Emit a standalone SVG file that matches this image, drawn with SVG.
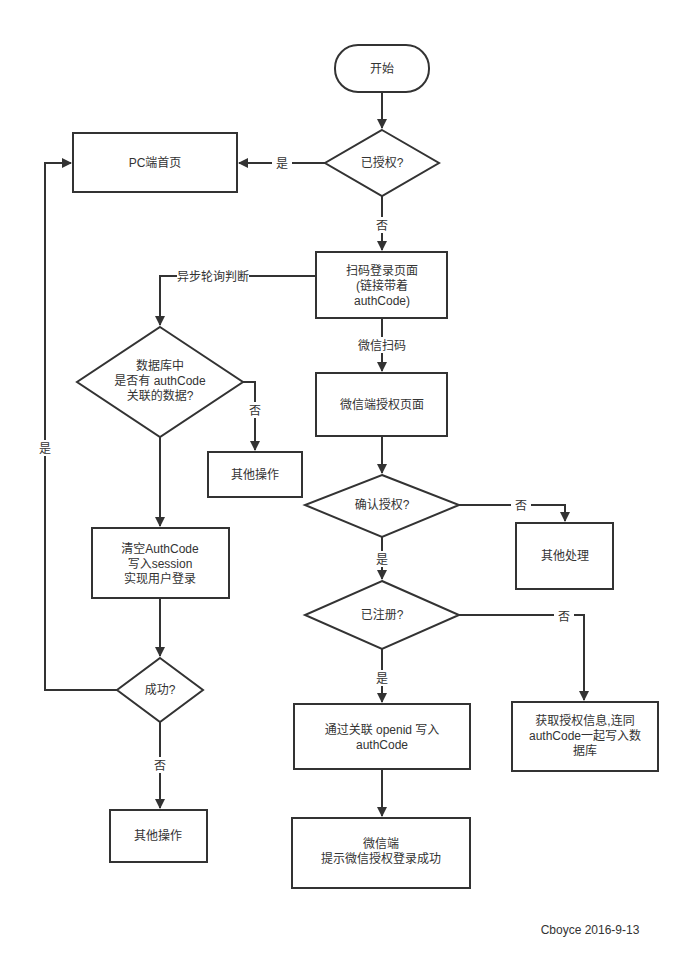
<svg xmlns="http://www.w3.org/2000/svg" width="700" height="975" viewBox="0 0 700 975">
<style>
.n{fill:#fff;stroke:#333;stroke-width:2}
text{font-family:"Liberation Sans","Noto Sans CJK SC",sans-serif;font-size:12px;fill:#333;text-anchor:middle}
.c{fill:none;stroke:#333;stroke-width:2}
.l{fill:#fff;stroke:none}
</style>
<defs><marker id="a" viewBox="0 0 10 10" refX="9" refY="5" markerWidth="5" markerHeight="5" orient="auto"><path d="M0,0L10,5L0,10z" fill="#333"/></marker></defs>
<rect width="700" height="975" fill="#fff"/>
<g id="connectors">
<path class="c" d="M382,92V128" marker-end="url(#a)"/>
<path class="c" d="M325,163H239" marker-end="url(#a)"/>
<path class="c" d="M382,196V250" marker-end="url(#a)"/>
<path class="c" d="M316,276H160V325" marker-end="url(#a)"/>
<path class="c" d="M243,382H255V450" marker-end="url(#a)"/>
<path class="c" d="M160,437V526" marker-end="url(#a)"/>
<path class="c" d="M160,598V656" marker-end="url(#a)"/>
<path class="c" d="M117,690H45V163H71" marker-end="url(#a)"/>
<path class="c" d="M160,722V808" marker-end="url(#a)"/>
<path class="c" d="M382,318V371" marker-end="url(#a)"/>
<path class="c" d="M382,436V473" marker-end="url(#a)"/>
<path class="c" d="M459,505H565V521" marker-end="url(#a)"/>
<path class="c" d="M382,537V579" marker-end="url(#a)"/>
<path class="c" d="M459,615H584V700" marker-end="url(#a)"/>
<path class="c" d="M382,649V702" marker-end="url(#a)"/>
<path class="c" d="M382,769V816" marker-end="url(#a)"/>
<rect class="l" x="272" y="155" width="20" height="16"/><text x="282" y="168">是</text>
<rect class="l" x="372" y="217" width="20" height="16"/><text x="382" y="230">否</text>
<rect class="l" x="177" y="268" width="72" height="16"/><text x="213" y="281">异步轮询判断</text>
<rect class="l" x="245" y="402" width="20" height="16"/><text x="255" y="415">否</text>
<rect class="l" x="35" y="440" width="20" height="16"/><text x="45" y="453">是</text>
<rect class="l" x="150" y="757" width="20" height="16"/><text x="160" y="770">否</text>
<rect class="l" x="356" y="337" width="52" height="16"/><text x="382" y="350">微信扫码</text>
<rect class="l" x="511" y="497" width="20" height="16"/><text x="521" y="510">否</text>
<rect class="l" x="372" y="551" width="20" height="16"/><text x="382" y="564">是</text>
<rect class="l" x="554" y="608" width="20" height="16"/><text x="564" y="621">否</text>
<rect class="l" x="372" y="670" width="20" height="16"/><text x="382" y="683">是</text>
</g>
<g id="start"><rect class="n" x="335" y="45" width="94" height="47" rx="23"/><text x="382" y="73">开始</text></g>
<g id="authorized"><path class="n" d="M382,130L439,163L382,196L325,163z"/><text x="382" y="167">已授权?</text></g>
<g id="pc-home"><rect class="n" x="73" y="133" width="164" height="59"/><text x="155" y="167">PC端首页</text></g>
<g id="scan-page"><rect class="n" x="316" y="252" width="131" height="66"/><text x="382" y="275">扫码登录页面</text><text x="382" y="290">(链接带着</text><text x="382" y="305">authCode)</text></g>
<g id="db-check"><path class="n" d="M160,327L243,382L160,437L77,382z"/><text x="160" y="370">数据库中</text><text x="160" y="385">是否有 authCode</text><text x="160" y="400">关联的数据?</text></g>
<g id="other-op-1"><rect class="n" x="208" y="452" width="94" height="45"/><text x="255" y="479">其他操作</text></g>
<g id="clear"><rect class="n" x="92" y="528" width="137" height="70"/><text x="160" y="553">清空AuthCode</text><text x="160" y="568">写入session</text><text x="160" y="583">实现用户登录</text></g>
<g id="success"><path class="n" d="M160,658L203,690L160,722L117,690z"/><text x="160" y="694">成功?</text></g>
<g id="other-op-2"><rect class="n" x="110" y="810" width="97" height="52"/><text x="158" y="840">其他操作</text></g>
<g id="wx-auth-page"><rect class="n" x="316" y="373" width="131" height="63"/><text x="382" y="409">微信端授权页面</text></g>
<g id="confirm"><path class="n" d="M382,475L459,505L382,537L305,505z"/><text x="382" y="509">确认授权?</text></g>
<g id="other-handle"><rect class="n" x="516" y="523" width="97" height="66"/><text x="565" y="560">其他处理</text></g>
<g id="registered"><path class="n" d="M382,581L459,615L382,649L305,615z"/><text x="382" y="619">已注册?</text></g>
<g id="write-code"><rect class="n" x="294" y="704" width="176" height="65"/><text x="382" y="734">通过关联 openid 写入</text><text x="382" y="749">authCode</text></g>
<g id="save-db"><rect class="n" x="512" y="702" width="146" height="69"/><text x="585" y="725">获取授权信息,连同</text><text x="585" y="740">authCode一起写入数</text><text x="585" y="755">据库</text></g>
<g id="done"><rect class="n" x="292" y="818" width="178" height="70"/><text x="381" y="848">微信端</text><text x="381" y="863">提示微信授权登录成功</text></g>
<text x="590" y="934">Cboyce 2016-9-13</text>
</svg>
